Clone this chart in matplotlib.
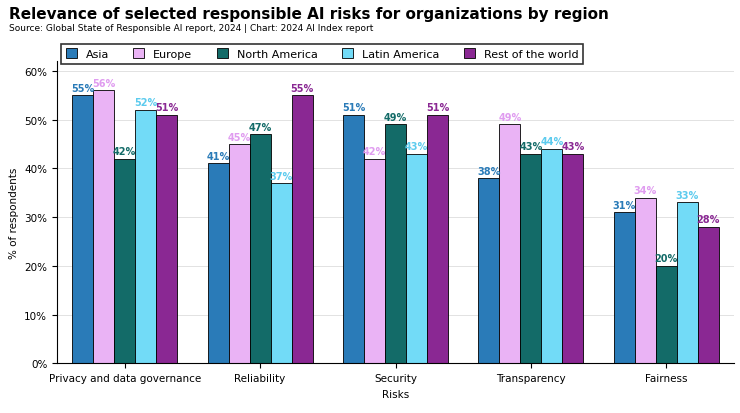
import matplotlib.pyplot as plt
import numpy as np

categories = ["Privacy and data governance", "Reliability", "Security", "Transparency", "Fairness"]
series = ["Asia", "Europe", "North America", "Latin America", "Rest of the world"]
asia = [55, 41, 51, 38, 31]
europe = [56, 45, 42, 49, 34]
north_america = [42, 47, 49, 43, 20]
latin_america = [52, 37, 43, 44, 33]
rest = [51, 55, 51, 43, 28]
values = [asia, europe, north_america, latin_america, rest]
colors = ["#2a7bb8", "#eab3f5", "#136b68", "#72dbf7", "#8a2893"]
label_colors = ["#2a7bb8", "#e09cf0", "#136b68", "#5ccbee", "#8a2893"]

fig = plt.figure(figsize=(7.4, 4.14), dpi=100)
ax = fig.add_axes([0.077, 0.12, 0.915, 0.73])
x = np.arange(len(categories))
w = 0.155
for i, (s, v) in enumerate(zip(series, values)):
    pos = x + (i - 2) * w
    ax.bar(pos, v, w, color=colors[i], edgecolor="black", linewidth=0.6, label=s)
    for p, val in zip(pos, v):
        ax.text(p, val + 0.5, f"{val}%", ha="center", va="bottom", fontsize=7, color=label_colors[i], fontweight="bold")

ax.set_ylim(0, 62)
ax.set_yticks(range(0, 61, 10))
ax.set_yticklabels([f"{t}%" for t in range(0, 61, 10)], fontsize=7.5)
ax.set_xticks(x)
ax.set_xticklabels(categories, fontsize=7.5)
ax.set_xlim(-0.5, 4.5)
ax.grid(axis="y", color="#dddddd", linewidth=0.6)
ax.set_axisbelow(True)
for sp in ["top", "right"]:
    ax.spines[sp].set_visible(False)
ax.set_xlabel("Risks", fontsize=7.5)
ax.set_ylabel("% of respondents", fontsize=7.5)

fig.text(0.012, 0.955, "Relevance of selected responsible AI risks for organizations by region", fontsize=11, fontweight="bold")
fig.text(0.012, 0.925, "Source: Global State of Responsible AI report, 2024 | Chart: 2024 AI Index report", fontsize=6.5)
leg = fig.legend(loc="upper left", bbox_to_anchor=(0.075, 0.905), ncol=5, fontsize=8, frameon=True,
                 fancybox=False, edgecolor="black", handlelength=1, handleheight=1, columnspacing=2.2)
leg.get_frame().set_linewidth(1.2)
fig.savefig("out.png", dpi=100)
